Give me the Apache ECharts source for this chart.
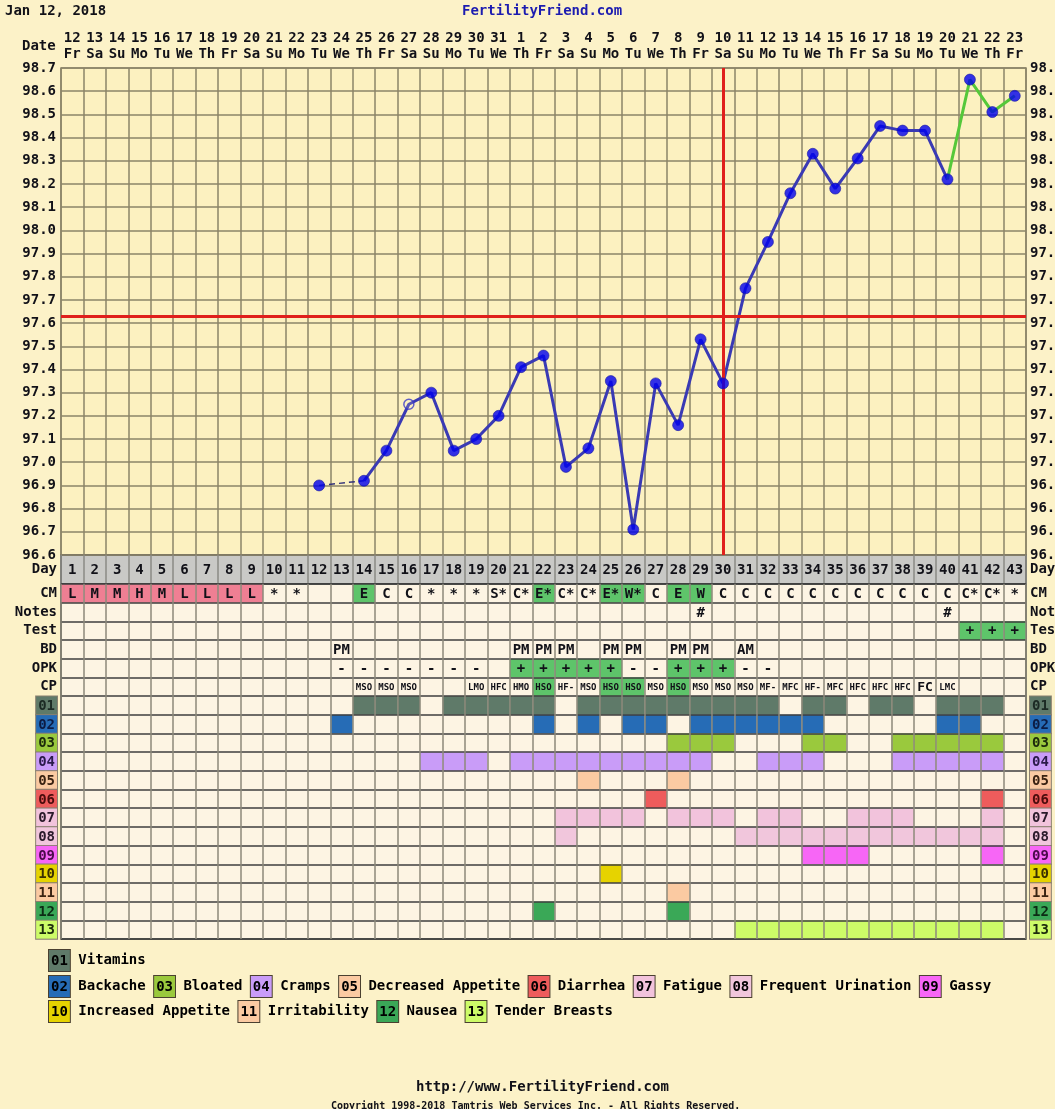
<!DOCTYPE html>
<html>
<head>
<meta charset="utf-8">
<script src="https://cdn.jsdelivr.net/npm/echarts@6/dist/echarts.min.js"></script>
<style>
  html, body { margin: 0; padding: 0; background: #fcf2c8; }
  #chart { width: 1055px; height: 1109px; }
</style>
</head>
<body>
<div id="chart"></div>
<script>
// ---- cycle data -----------------------------------------------------------
const cycleDays = ['1','2','3','4','5','6','7','8','9','10','11','12','13','14','15','16','17','18','19','20','21','22','23','24','25','26','27','28','29','30','31','32','33','34','35','36','37','38','39','40','41','42','43'];
const dateNums  = ['12','13','14','15','16','17','18','19','20','21','22','23','24','25','26','27','28','29','30','31','1','2','3','4','5','6','7','8','9','10','11','12','13','14','15','16','17','18','19','20','21','22','23'];
const weekdays  = ['Fr','Sa','Su','Mo','Tu','We','Th','Fr','Sa','Su','Mo','Tu','We','Th','Fr','Sa','Su','Mo','Tu','We','Th','Fr','Sa','Su','Mo','Tu','We','Th','Fr','Sa','Su','Mo','Tu','We','Th','Fr','Sa','Su','Mo','Tu','We','Th','Fr'];

// waking temperatures (°F) by cycle day, null = not recorded
const temps = [null,null,null,null,null,null,null,null,null,null,null,
  96.90, null,
  96.92, 97.05, 97.25, 97.30, 97.05, 97.10, 97.20, 97.41, 97.46, 96.98,
  97.06, 97.35, 96.71, 97.34, 97.16, 97.53, 97.34, 97.75, 97.95, 98.16,
  98.33, 98.18, 98.31, 98.45, 98.43, 98.43, 98.22, 98.65, 98.51, 98.58];
const discardedDays = [16];       // open-circle temperatures
const firstLinkedDay = 14;        // solid line starts here
const pregnancyFromDay = 40;      // green line from here on
const coverline = 97.63;
const ovulationDay = '30';

const tempTicks = { min: 96.6, max: 98.7, step: 0.1 };

// cervical mucus
const cm = ['L','M','M','H','M','L','L','L','L','*','*','','','E','C','C','*','*','*','S*','C*','E*','C*','C*','E*','W*','C','E','W','C','C','C','C','C','C','C','C','C','C','C','C*','C*','*'];
const notesByDay = { 29: '#', 40: '#' };
const testByDay  = { 41: '+', 42: '+', 43: '+' };
const bdByDay    = { 13: 'PM', 21: 'PM', 22: 'PM', 23: 'PM', 25: 'PM', 26: 'PM', 28: 'PM', 29: 'PM', 31: 'AM' };
const opkByDay   = { 13: '-', 14: '-', 15: '-', 16: '-', 17: '-', 18: '-', 19: '-',
                     21: '+', 22: '+', 23: '+', 24: '+', 25: '+', 26: '-', 27: '-',
                     28: '+', 29: '+', 30: '+', 31: '-', 32: '-' };
const cpByDay    = { 14: 'MSO', 15: 'MSO', 16: 'MSO', 19: 'LMO', 20: 'HFC', 21: 'HMO', 22: 'HSO',
                     23: 'HF-', 24: 'MSO', 25: 'HSO', 26: 'HSO', 27: 'MSO', 28: 'HSO', 29: 'MSO',
                     30: 'MSO', 31: 'MSO', 32: 'MF-', 33: 'MFC', 34: 'HF-', 35: 'MFC', 36: 'HFC',
                     37: 'HFC', 38: 'HFC', 39: 'FC', 40: 'LMC' };

// symptoms
const symptomCodes = ['01','02','03','04','05','06','07','08','09','10','11','12','13'];
const symptomNames = ['Vitamins','Backache','Bloated','Cramps','Decreased Appetite','Diarrhea','Fatigue',
                      'Frequent Urination','Gassy','Increased Appetite','Irritability','Nausea','Tender Breasts'];
const symptomDays = [
  [14,15,16,18,19,20,21,22,24,25,26,27,28,29,30,31,32,34,35,37,38,40,41,42],
  [13,22,24,26,27,29,30,31,32,33,34,40,41],
  [28,29,30,34,35,38,39,40,41,42],
  [17,18,19,21,22,23,24,25,26,27,28,29,32,33,34,38,39,40,41,42],
  [24,28],
  [27,42],
  [23,24,25,26,28,29,30,32,33,36,37,38,42],
  [23,31,32,33,34,35,36,37,38,39,40,41,42],
  [34,35,36,42],
  [25],
  [28],
  [22,28],
  [31,32,33,34,35,36,37,38,39,40,41,42]
];
const symptomColors = ['#5f7a69','#266cb6','#9ac93d','#c99cf8','#fbcaa2','#ee5c5c','#f2c3dc',
                       '#f1c6dc','#f766f6','#e6d300','#fbcaa2','#3aa857','#cdfb68'];
const symptomTextColors = ['#1c2a24','#0c1c44','#1c2a0c','#2a1a4a','#3a2212','#4a0c0c','#2a1a2a',
                           '#2a1a2a','#4a0a4a','#3a3000','#3a2212','#0c2a14','#1c2a0c'];
const legendRows = [['01'], ['02','03','04','05','06','07','08','09'], ['10','11','12','13']];

// ---- styling --------------------------------------------------------------
const FONT = '"DejaVu Sans Mono", "Liberation Mono", monospace';
const INK = '#111118';
const PINK = '#ef7f93';
const GREEN = '#5ec46a';
const GRID_LINE = '#8b8468';
const TABLE_V = '#8c887a';
const TABLE_H = '#3e3e3e';

const rowKeys = ['CM','Notes','Test','BD','OPK','CP'].concat(symptomCodes);

// ---- table cells ----------------------------------------------------------
const cells = [];
function addCell(day, row, text, fill, size) {
  cells.push({ day: day - 1, row: row, text: text || '', fill: fill || null, size: size || 14 });
}
cm.forEach(function (code, i) {
  let fill = null;
  if (['L', 'M', 'H'].indexOf(code) >= 0) fill = PINK;
  else if (code.charAt(0) === 'E' || code.charAt(0) === 'W') fill = GREEN;
  if (code || fill) addCell(i + 1, 0, code, fill);
});
Object.keys(notesByDay).forEach(function (d) { addCell(+d, 1, notesByDay[d]); });
Object.keys(testByDay).forEach(function (d) { addCell(+d, 2, testByDay[d], testByDay[d] === '+' ? GREEN : null); });
Object.keys(bdByDay).forEach(function (d) { addCell(+d, 3, bdByDay[d]); });
Object.keys(opkByDay).forEach(function (d) { addCell(+d, 4, opkByDay[d], opkByDay[d] === '+' ? GREEN : null); });
Object.keys(cpByDay).forEach(function (d) {
  const v = cpByDay[d];
  addCell(+d, 5, v, v === 'HSO' ? GREEN : null, v.length <= 2 ? 13 : 9);
});
symptomDays.forEach(function (list, s) {
  list.forEach(function (d) { addCell(d, 6 + s, '', symptomColors[s]); });
});

function cellRenderer(source) {
  return function (params, api) {
    const cell = source[params.dataIndex];
    const p = api.coord([api.value(0), api.value(1)]);
    const sz = api.size([1, 1]);
    const children = [];
    if (cell.fill) {
      children.push({
        type: 'rect',
        shape: { x: p[0] - sz[0] / 2, y: p[1] - sz[1] / 2, width: sz[0], height: sz[1] },
        style: { fill: cell.fill }
      });
    }
    if (cell.text) {
      children.push({
        type: 'text',
        style: {
          text: cell.text, x: p[0], y: p[1] + 1,
          align: 'center', verticalAlign: 'middle',
          textAlign: 'center', textVerticalAlign: 'middle',
          font: 'bold ' + cell.size + 'px ' + FONT, fill: INK
        }
      });
    }
    return { type: 'group', children: children };
  };
}

const dayCells = cycleDays.map(function (d, i) { return { day: i, row: 0, text: d, fill: null, size: 14 }; });

// ---- temperature series ---------------------------------------------------
const dashedData = temps.map(function (t, i) {
  const d = i + 1;
  return (d <= firstLinkedDay && t !== null) ? t : null;
});
const solidData = temps.map(function (t, i) {
  const d = i + 1;
  return (d >= firstLinkedDay && d <= pregnancyFromDay) ? t : null;
});
const greenData = temps.map(function (t, i) {
  return (i + 1 >= pregnancyFromDay) ? t : null;
});
const pointData = [];
temps.forEach(function (t, i) {
  if (t === null) return;
  const open = discardedDays.indexOf(i + 1) >= 0;
  pointData.push({
    value: [i, t],
    symbolSize: open ? 10 : 11,
    itemStyle: open
      ? { color: 'rgba(252,241,192,0.2)', borderColor: '#3a3ac8', borderWidth: 1.5 }
      : { color: '#0000ee', borderColor: '#1a1aa0', borderWidth: 0.8 }
  });
});

// ---- axis label styles ----------------------------------------------------
const labelBase = { fontFamily: FONT, fontWeight: 'bold', fontSize: 14, color: INK };
const rowRich = { t: { fontFamily: FONT, fontWeight: 'bold', fontSize: 14, color: INK } };
symptomCodes.forEach(function (c, i) {
  rowRich['s' + c] = {
    fontFamily: FONT, fontWeight: 'bold', fontSize: 14, color: symptomTextColors[i],
    backgroundColor: symptomColors[i], borderColor: '#8a8070', borderWidth: 1,
    padding: [3, 2, 1, 2]
  };
});
function rowLabel(v) {
  return symptomCodes.indexOf(v) >= 0 ? '{s' + v + '|' + v + '}' : '{t|' + v + '}';
}

// ---- legend text -----------------------------------------------------------
const legendRich = { n: { fontFamily: FONT, fontWeight: 'bold', fontSize: 14, color: INK } };
symptomCodes.forEach(function (c, i) {
  legendRich['b' + c] = {
    fontFamily: FONT, fontWeight: 'bold', fontSize: 14, color: symptomTextColors[i],
    backgroundColor: symptomColors[i], borderColor: '#4a4030', borderWidth: 1,
    padding: [4, 2, 3, 2]
  };
});
const legendTops = [949, 975, 1000];
const legendGraphics = legendRows.map(function (row, r) {
  return {
    type: 'text', left: 48, top: legendTops[r],
    style: {
      text: row.map(function (c) {
        return '{b' + c + '|' + c + '}{n| ' + symptomNames[symptomCodes.indexOf(c)] + ' }';
      }).join(''),
      rich: legendRich
    }
  };
});

const chart = echarts.init(document.getElementById('chart'), null, { renderer: 'canvas' });

const gridBase = { left: 61, right: 29, show: true, containLabel: false, outerBoundsMode: 'none' };

chart.setOption({
  animation: false,
  backgroundColor: '#fcf2c8',
  textStyle: { fontFamily: FONT },
  grid: [
    Object.assign({ top: 68, height: 487, backgroundColor: '#fcf1c0',
      borderColor: GRID_LINE, borderWidth: 1.5 }, gridBase),
    Object.assign({ top: 555, height: 29, backgroundColor: '#c9c9c6',
      borderColor: '#4a4a4a', borderWidth: 1.5 }, gridBase),
    Object.assign({ top: 584, height: 355, backgroundColor: '#fdf4e3',
      borderColor: TABLE_H, borderWidth: 1.5 }, gridBase)
  ],
  xAxis: [
    { gridIndex: 0, type: 'category', data: cycleDays, boundaryGap: true,
      axisLine: { show: false }, axisTick: { show: false }, axisLabel: { show: false },
      splitLine: { show: true, interval: 0, lineStyle: { color: GRID_LINE, width: 1.5 } } },
    { gridIndex: 0, type: 'category', position: 'top',
      data: dateNums.map(function (d, i) { return d + '\n' + weekdays[i]; }),
      axisLine: { show: false }, axisTick: { show: false }, splitLine: { show: false },
      axisLabel: Object.assign({ interval: 0, margin: 6, lineHeight: 16, hideOverlap: false }, labelBase) },
    { gridIndex: 1, type: 'category', data: cycleDays,
      axisLine: { show: false }, axisTick: { show: false }, axisLabel: { show: false },
      splitLine: { show: true, interval: 0, lineStyle: { color: '#8a8a84', width: 1.5 } } },
    { gridIndex: 2, type: 'category', data: cycleDays, z: 4,
      axisLine: { show: false }, axisTick: { show: false }, axisLabel: { show: false },
      splitLine: { show: true, interval: 0, lineStyle: { color: TABLE_V, width: 1.5 } } }
  ],
  yAxis: [
    { gridIndex: 0, type: 'value', min: tempTicks.min, max: tempTicks.max, interval: tempTicks.step,
      axisLine: { show: false }, axisTick: { show: false },
      splitLine: { show: true, lineStyle: { color: GRID_LINE, width: 1.5 } },
      axisLabel: Object.assign({ margin: 5, formatter: function (v) { return v.toFixed(1); } }, labelBase) },
    { gridIndex: 0, type: 'value', position: 'right', min: tempTicks.min, max: tempTicks.max, interval: tempTicks.step,
      axisLine: { show: false }, axisTick: { show: false }, splitLine: { show: false },
      axisLabel: Object.assign({ margin: 4, formatter: function (v) { return v.toFixed(1); } }, labelBase) },
    { gridIndex: 1, type: 'category', data: ['Day'],
      axisLine: { show: false }, axisTick: { show: false }, splitLine: { show: false },
      axisLabel: Object.assign({ margin: 4 }, labelBase) },
    { gridIndex: 1, type: 'category', position: 'right', data: ['Day'],
      axisLine: { show: false }, axisTick: { show: false }, splitLine: { show: false },
      axisLabel: Object.assign({ margin: 4 }, labelBase) },
    { gridIndex: 2, type: 'category', data: rowKeys, inverse: true, z: 4,
      axisLine: { show: false }, axisTick: { show: false },
      splitLine: { show: true, interval: 0, lineStyle: { color: TABLE_H, width: 1.5 } },
      axisLabel: { margin: 4, interval: 0, formatter: rowLabel, rich: rowRich } },
    { gridIndex: 2, type: 'category', position: 'right', data: rowKeys, inverse: true,
      axisLine: { show: false }, axisTick: { show: false }, splitLine: { show: false },
      axisLabel: { margin: 4, interval: 0, formatter: rowLabel, rich: rowRich } }
  ],
  series: [
    { name: 'gap', type: 'line', xAxisIndex: 0, yAxisIndex: 0, data: dashedData, connectNulls: true,
      symbol: 'none', z: 2,
      lineStyle: { color: '#33337a', width: 1.5, type: [6, 4] },
      markLine: {
        silent: true, symbol: 'none', label: { show: false },
        lineStyle: { color: '#e0201c', width: 3, type: 'solid' },
        data: [ { yAxis: coverline }, { xAxis: ovulationDay } ]
      } },
    { name: 'temperature', type: 'line', xAxisIndex: 0, yAxisIndex: 0, data: solidData,
      symbol: 'none', z: 3, lineStyle: { color: '#3a3ab4', width: 3 } },
    { name: 'pregnant', type: 'line', xAxisIndex: 0, yAxisIndex: 0, data: greenData,
      symbol: 'none', z: 3, lineStyle: { color: '#55c83a', width: 3 } },
    { name: 'points', type: 'scatter', xAxisIndex: 0, yAxisIndex: 0, data: pointData,
      symbol: 'circle', z: 5 },
    { name: 'days', type: 'custom', xAxisIndex: 2, yAxisIndex: 2,
      data: dayCells.map(function (c) { return [c.day, c.row]; }),
      renderItem: cellRenderer(dayCells), z: 2 },
    { name: 'table', type: 'custom', xAxisIndex: 3, yAxisIndex: 4,
      data: cells.map(function (c) { return [c.day, c.row]; }),
      renderItem: cellRenderer(cells), z: 2 }
  ],
  graphic: [
    { type: 'text', left: 5, top: 4,
      style: { text: 'Jan 12, 2018', font: 'bold 14px ' + FONT, fill: INK } },
    { type: 'text', left: 542 - 80, top: 4,
      style: { text: 'FertilityFriend.com', font: 'bold 14px ' + FONT, fill: '#1c1cb0' } },
    { type: 'text', left: 22, top: 39,
      style: { text: 'Date', font: 'bold 14px ' + FONT, fill: INK } },
    { type: 'text', left: 416, top: 1080,
      style: { text: 'http://www.FertilityFriend.com', font: 'bold 14px ' + FONT, fill: INK } },
    { type: 'text', left: 331, top: 1101,
      style: { text: 'Copyright 1998-2018 Tamtris Web Services Inc. - All Rights Reserved.',
               font: 'bold 10px ' + FONT, fill: INK } }
  ].concat(legendGraphics)
});
</script>
</body>
</html>
